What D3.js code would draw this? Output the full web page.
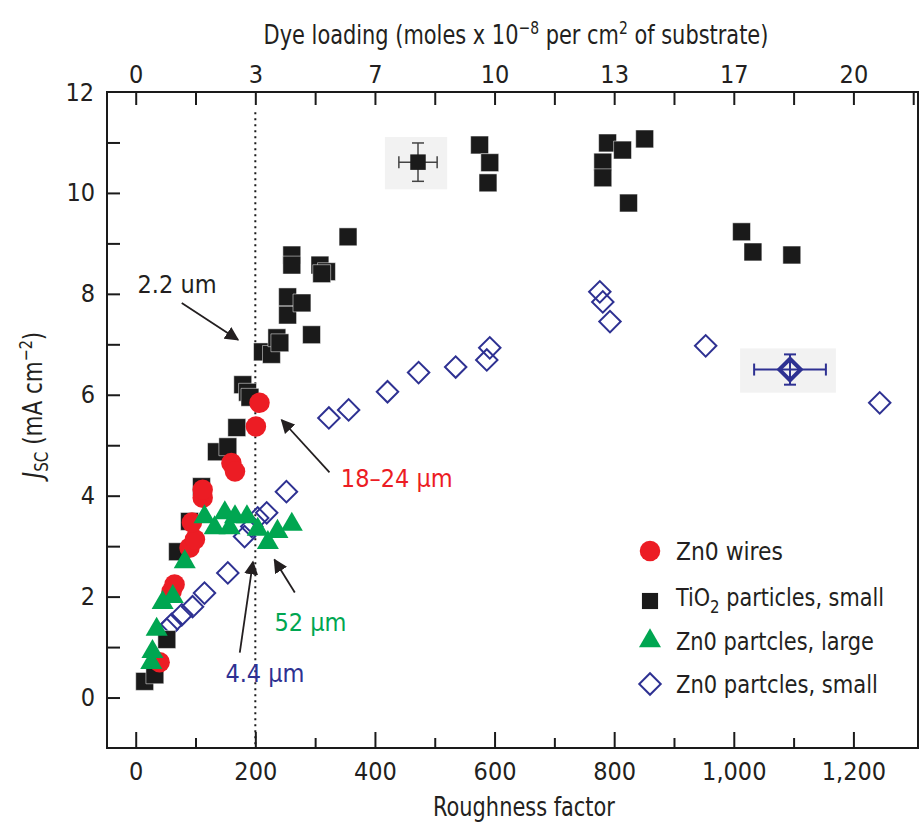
<!DOCTYPE html>
<html lang="en">
<head>
<meta charset="utf-8">
<title>Jsc vs roughness</title>
<script src="https://cdn.jsdelivr.net/npm/d3@7"></script>
<style>
  body { margin: 0; background: #fff; }
  text { font-family: "Liberation Sans Narrow", "DejaVu Sans Condensed", sans-serif; fill: #231f20; }
</style>
</head>
<body>
<script>
// [roughness factor, Jsc]
var tio2Small = [
  [15,0.32],[32,0.45],[52,1.15],[70,2.89],[90,3.49],[110,4.18],[135,4.87],[154,4.97],
  [169,5.35],[179,6.2],[187,6.05],[191,5.95],[212,6.85],[227,6.8],[236,7.13],[241,7.03],
  [254,7.58],[254,7.94],[278,7.82],[294,7.19],[261,8.77],[261,8.57],[308,8.57],[319,8.44],
  [311,8.4],[355,9.13],[575,10.95],[592,10.6],[589,10.2],[781,10.61],[781,10.3],[789,10.99],
  [814,10.85],[851,11.07],[824,9.8],[1013,9.23],[1032,8.83],[1097,8.77]
];
var znoWires = [
  [40,0.7],[60,2.1],[65,2.24],[90,2.97],[99,3.13],[94,3.47],[112,3.96],[112,4.12],
  [160,4.65],[166,4.48],[201,5.37],[207,5.84]
];
var znoLarge = [
  [26,0.69],[28,0.91],[35,1.35],[45,1.88],[62,2.0],[82,2.69],[115,3.58],[132,3.36],
  [149,3.66],[157,3.36],[166,3.58],[186,3.58],[204,3.33],[221,3.07],[237,3.29],[261,3.43]
];
var znoSmall = [
  [52,1.35],[60,1.45],[77,1.64],[95,1.8],[115,2.07],[154,2.47],[182,3.19],[194,3.39],
  [204,3.56],[219,3.66],[252,4.08],[323,5.54],[356,5.7],[421,6.06],[473,6.44],[535,6.55],
  [587,6.69],[592,6.93],[776,8.04],[781,7.84],[793,7.45],[953,6.97],[1244,5.84]
];
// points with error bars: [R, J, dR, dJ]
var tio2Err = [472, 10.61, 32, 0.38];
var znoSmallErr = [1094, 6.5, 60, 0.3];

var xTicks = [0, 200, 400, 600, 800, 1000, 1200];
var xMinor = [100, 300, 500, 700, 900, 1100];
var topLabels = ['0', '3', '7', '10', '13', '17', '20'];
var yTicks = [0, 2, 4, 6, 8, 10, 12];

var W = 923, H = 835;
var svg = d3.select('body').append('svg').attr('width', W).attr('height', H);

var x = d3.scaleLinear().domain([-48, 1308]).range([107, 918]);
var y = d3.scaleLinear().domain([-1, 12]).range([748, 92]);

var red = '#ec1c24', green = '#00a651', navy = '#2e3192', black = '#1a1a1a';

// text in its own group, squeezed afterwards to a given width (condensed look)
function textAt(px, py, rot) {
  return svg.append('g')
    .attr('transform', 'translate(' + px + ',' + py + ')' + (rot ? ' rotate(' + rot + ')' : ''))
    .append('text');
}
function fitWidth(t, w) {
  var bw = t.node().getBBox().width;
  t.attr('transform', 'scale(' + (w / bw) + ',1)');
}

// gray boxes behind the error bar points
[tio2Err, znoSmallErr].forEach(function(p) {
  var x0 = x(p[0] - p[2]) - 14, x1 = x(p[0] + p[2]) + 10;
  var y0 = y(p[1] + p[3]) - 6, y1 = y(p[1] - p[3]) + 8;
  svg.append('rect').attr('x', x0).attr('y', y0)
    .attr('width', x1 - x0).attr('height', y1 - y0).attr('fill', '#f2f2f2');
});

// dotted guide at R = 200
svg.append('line')
  .attr('x1', x(200)).attr('x2', x(200))
  .attr('y1', y(11.6)).attr('y2', y(-1))
  .attr('stroke', black).attr('stroke-width', 2).attr('stroke-dasharray', '2,4');

// axes
var bottomAxis = d3.axisBottom(x).tickValues(xTicks).tickSize(-16).tickPadding(14).tickFormat(d3.format(','));
var bottomMinor = d3.axisBottom(x).tickValues(xMinor).tickSize(-10).tickFormat('');
var topAxis = d3.axisTop(x).tickValues(d3.range(0, 1301, 100)).tickSize(-13).tickPadding(9)
  .tickFormat(function(d) { return d % 200 === 0 ? topLabels[d / 200] : ''; });
var leftAxis = d3.axisLeft(y).tickValues(d3.range(0, 12, 1)).tickSize(-13).tickPadding(12)
  .tickFormat(function(d) { return yTicks.indexOf(d) >= 0 ? d : ''; });

function styleAxis(g) {
  g.select('.domain').remove();
  g.selectAll('.tick line').attr('stroke', black).attr('stroke-width', 2);
  g.selectAll('.tick text').attr('font-size', 25).attr('fill', '#231f20');
}
svg.append('g').attr('transform', 'translate(0,748)').call(bottomAxis).call(styleAxis);
svg.append('g').attr('transform', 'translate(0,748)').call(bottomMinor).call(styleAxis);
svg.append('g').attr('transform', 'translate(0,92)').call(topAxis).call(styleAxis);
svg.append('g').attr('transform', 'translate(107,0)').call(leftAxis).call(styleAxis);
// label for 12 at the top corner
svg.append('text').attr('x', 94).attr('y', y(12)).attr('dy', '0.35em')
  .attr('text-anchor', 'end').attr('font-size', 25).text('12');

svg.append('rect').attr('x', 107).attr('y', 92).attr('width', 811).attr('height', 656)
  .attr('fill', 'none').attr('stroke', black).attr('stroke-width', 2);

// axis titles
var xt = textAt(524, 816).attr('text-anchor', 'middle').attr('font-size', 27).text('Roughness factor');
fitWidth(xt, 182);

var tt = textAt(516, 44).attr('text-anchor', 'middle').attr('font-size', 27);
tt.append('tspan').text('Dye loading (moles x 10');
tt.append('tspan').attr('dy', -10).attr('font-size', 18).text('\u22128');
tt.append('tspan').attr('dy', 10).text(' per cm');
tt.append('tspan').attr('dy', -10).attr('font-size', 18).text('2');
tt.append('tspan').attr('dy', 10).text(' of substrate)');
fitWidth(tt, 505);

var yl = textAt(42, 405, -90).attr('text-anchor', 'middle').attr('font-size', 27);
yl.append('tspan').attr('font-style', 'italic').text('J');
yl.append('tspan').attr('dy', 6).attr('font-size', 19).text('SC');
yl.append('tspan').attr('dy', -6).text(' (mA cm');
yl.append('tspan').attr('dy', -10).attr('font-size', 18).text('\u22122');
yl.append('tspan').attr('dy', 10).text(')');
fitWidth(yl, 150);

// error bars
function errBar(p, col, w) {
  var g = svg.append('g').attr('stroke', col).attr('stroke-width', w);
  g.append('line').attr('x1', x(p[0] - p[2])).attr('x2', x(p[0] + p[2])).attr('y1', y(p[1])).attr('y2', y(p[1]));
  g.append('line').attr('x1', x(p[0])).attr('x2', x(p[0])).attr('y1', y(p[1] - p[3])).attr('y2', y(p[1] + p[3]));
  [-1, 1].forEach(function(s) {
    g.append('line').attr('x1', x(p[0] + s * p[2])).attr('x2', x(p[0] + s * p[2]))
      .attr('y1', y(p[1]) - 6).attr('y2', y(p[1]) + 6);
    g.append('line').attr('y1', y(p[1] + s * p[3])).attr('y2', y(p[1] + s * p[3]))
      .attr('x1', x(p[0]) - 6).attr('x2', x(p[0]) + 6);
  });
}
errBar(tio2Err, '#444', 1.5);
errBar(znoSmallErr, navy, 2);

var sq = d3.symbol().type(d3.symbolSquare).size(320);
var circ = d3.symbol().type(d3.symbolCircle).size(330);
var tri = d3.symbol().type(d3.symbolTriangle).size(210);
var dia = d3.symbol().type(d3.symbolSquare).size(230);

function pts(data, sym, fill, stroke, sw, rot) {
  svg.append('g').selectAll('path').data(data).join('path')
    .attr('d', sym)
    .attr('transform', function(d) { return 'translate(' + x(d[0]) + ',' + y(d[1]) + ')' + (rot ? ' rotate(45)' : ''); })
    .attr('fill', fill).attr('stroke', stroke).attr('stroke-width', sw);
}
pts(znoSmall, dia, 'none', navy, 2, true);
pts(tio2Small, sq, black, '#fff', 0.5, false);
pts([tio2Err], d3.symbol().type(d3.symbolSquare).size(240), black, 'none', 0, false);
pts(znoWires, circ, red, 'none', 0, false);
pts(znoLarge, tri, green, 'none', 0, false);
pts([znoSmallErr], dia, 'none', navy, 4, true);

// annotations
var defs = svg.append('defs');
defs.append('marker').attr('id', 'ah').attr('viewBox', '0 0 10 10').attr('refX', 9).attr('refY', 5)
  .attr('markerWidth', 14).attr('markerHeight', 14).attr('markerUnits', 'userSpaceOnUse').attr('orient', 'auto')
  .append('path').attr('d', 'M0,0 L10,5 L0,10 z').attr('fill', '#231f20');

var notes = [
  {text: '2.2 um', col: '#231f20', at: [3, 8.02], from: [77, 7.82], to: [171, 7.09]},
  {text: '18\u201324 \u03bcm', col: red, at: [343, 4.17], from: [324, 4.46], to: [244, 5.5]},
  {text: '52 \u03bcm', col: green, at: [232, 1.32], from: [266, 2.08], to: [232, 2.73]},
  {text: '4.4 \u03bcm', col: navy, at: [150, 0.31], from: [174, 0.89], to: [196, 2.69]}
];
notes.forEach(function(n) {
  svg.append('line').attr('x1', x(n.from[0])).attr('y1', y(n.from[1]))
    .attr('x2', x(n.to[0])).attr('y2', y(n.to[1]))
    .attr('stroke', '#231f20').attr('stroke-width', 1.8).attr('marker-end', 'url(#ah)');
  svg.append('text').attr('x', x(n.at[0])).attr('y', y(n.at[1])).attr('font-size', 25)
    .style('fill', n.col).text(n.text);
});

// legend
var legend = [
  {label: 'Zn0 wires', w: 107, sym: circ, fill: red, stroke: 'none', sw: 0, rot: false},
  {label: 'TiO', sub: '2', rest: ' particles, small', w: 209, sym: d3.symbol().type(d3.symbolSquare).size(260), fill: black, stroke: 'none', sw: 0, rot: false},
  {label: 'Zn0 partcles, large', w: 198, sym: tri, fill: green, stroke: 'none', sw: 0, rot: false},
  {label: 'Zn0 partcles, small', w: 202, sym: dia, fill: 'none', stroke: navy, sw: 2, rot: true}
];
var ly = [551, 597, 641, 684];
legend.forEach(function(l, i) {
  svg.append('path').attr('d', l.sym)
    .attr('transform', 'translate(650,' + (ly[i] + (i === 1 ? 4 : 0)) + ')' + (l.rot ? ' rotate(45)' : ''))
    .attr('fill', l.fill).attr('stroke', l.stroke).attr('stroke-width', l.sw);
  var t = textAt(676, ly[i] + 9).attr('font-size', 25);
  t.append('tspan').text(l.label);
  if (l.sub) {
    t.append('tspan').attr('dy', 7).attr('font-size', 18).text(l.sub);
    t.append('tspan').attr('dy', -7).text(l.rest);
  }
  fitWidth(t, l.w);
});
</script>
</body>
</html>
